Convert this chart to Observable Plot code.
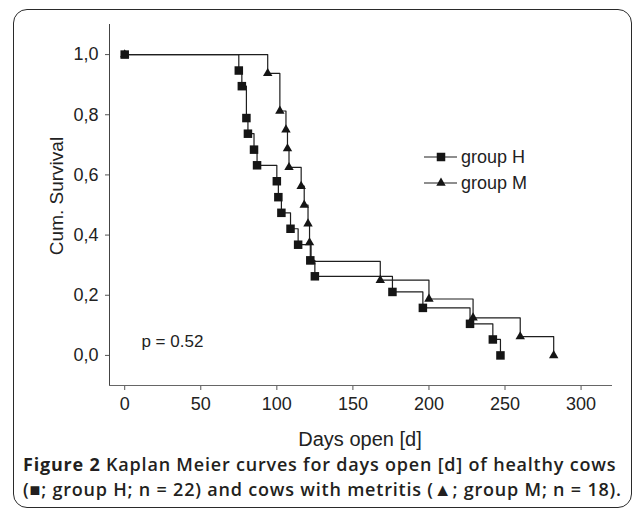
<!DOCTYPE html>
<html><head><meta charset="utf-8">
<script src="https://cdn.jsdelivr.net/npm/d3@7"></script>
<script src="https://cdn.jsdelivr.net/npm/@observablehq/plot@0.6"></script>
<style>
html,body{margin:0;padding:0;background:#fff;}
#wrap{position:relative;width:632px;height:516px;overflow:hidden;font-family:"Liberation Sans",Arial,sans-serif;}
#frame{position:absolute;left:13px;top:9px;width:619px;height:499px;border:1.5px solid #2a2a2a;border-radius:14px;box-sizing:border-box;}
#chart{position:absolute;left:0;top:0;}
#caption{position:absolute;left:23px;top:452px;font-family:"Open Sans","Noto Sans",sans-serif;font-size:18px;letter-spacing:0.8px;line-height:25px;color:#231f20;font-weight:600;white-space:nowrap;}
#caption b{font-weight:700;}
</style>
</head><body>
<div id="wrap"><div id="frame"></div><div id="chart"></div>
<div id="caption"><b>Figure 2</b> Kaplan Meier curves for days open [d] of healthy cows<br>(■; group H; n = 22) and cows with metritis (▲; group M; n = 18).</div>
</div>
<script>
// Group H (healthy), Kaplan-Meier steps
const daysH = [0, 75, 77, 80, 81, 85, 87, 100, 101, 103, 109, 114, 122, 125, 176, 196, 227, 242, 247];
const survH = [1, 0.947, 0.895, 0.789, 0.737, 0.684, 0.632, 0.579, 0.526, 0.474, 0.421, 0.368, 0.316, 0.263, 0.211, 0.158, 0.105, 0.053, 0];
// Group M (metritis)
const daysM = [0, 94, 102, 106, 107, 108, 116, 118, 120.5, 121.5, 122.5, 168, 200, 229, 260, 282];
const survM = [1, 0.9375, 0.8125, 0.75, 0.6875, 0.625, 0.5625, 0.5, 0.4375, 0.375, 0.3125, 0.25, 0.1875, 0.125, 0.0625, 0];
const xTicks = [0, 50, 100, 150, 200, 250, 300];
const yTicks = [0, 0.2, 0.4, 0.6, 0.8, 1.0];
const groupNames = ["group H", "group M"];
const pLabel = ["p = 0.52"];

const H = daysH.map((d, i) => ({day: d, surv: survH[i]}));
const M = daysM.map((d, i) => ({day: d, surv: survM[i]}));
const ink = "#1e1e1e";

const chart = Plot.plot({
  width: 632, height: 470,
  marginLeft: 109, marginRight: 21, marginTop: 24, marginBottom: 85,
  x: {domain: [-10, 320]},
  y: {domain: [-0.1, 1.1]},
  style: {fontFamily: "'Liberation Sans', Arial, sans-serif", fontSize: "18px", color: "#222", background: "transparent", overflow: "visible"},
  marks: [
    Plot.axisX({ticks: xTicks, tickSize: 5, tickPadding: 7, tickFormat: d => String(d), label: null, stroke: "#555"}),
    Plot.axisY({ticks: yTicks, tickSize: 4, tickPadding: 7, tickFormat: d => d.toFixed(1).replace(".", ","), label: null, stroke: "#555"}),
    Plot.frame({anchor: "left", stroke: "#444"}),
    Plot.frame({anchor: "bottom", stroke: "#666"}),
    Plot.line(M, {x: "day", y: "surv", curve: "step-after", stroke: ink, strokeWidth: 1.2}),
    Plot.line(H, {x: "day", y: "surv", curve: "step-after", stroke: ink, strokeWidth: 1.2}),
    Plot.dot(M, {x: "day", y: "surv", symbol: "triangle", r: 3.5, fill: "#151515", stroke: "none"}),
    Plot.dot(H, {x: "day", y: "surv", symbol: "square", r: 4.8, fill: "#151515", stroke: "none"}),
    Plot.text(pLabel, {x: 11, y: 0.045, text: d => d, textAnchor: "start", fontSize: 17, fill: "#222"})
  ]
});
document.getElementById("chart").appendChild(chart);

const svg = d3.select(chart);
// axis titles
svg.append("text").attr("x", 360).attr("y", 446).attr("text-anchor", "middle")
  .attr("font-size", 20).attr("fill", "#222").attr("font-family", "'Liberation Sans', Arial, sans-serif")
  .text("Days open [d]");
svg.append("text").attr("transform", "translate(63,196) rotate(-90)").attr("text-anchor", "middle")
  .attr("font-size", 19).attr("fill", "#222").attr("font-family", "'Liberation Sans', Arial, sans-serif")
  .text("Cum. Survival");
// legend
const leg = svg.append("g").attr("font-family", "'Liberation Sans', Arial, sans-serif").attr("font-size", 18).attr("fill", "#222").attr("text-anchor", "start");
const sym = [d3.symbolSquare, d3.symbolTriangle];
const sizes = [Math.PI * 4.8 * 4.8, Math.PI * 3.5 * 3.5];
groupNames.forEach((name, i) => {
  const y = 157 + i * 26;
  leg.append("line").attr("x1", 424).attr("x2", 457).attr("y1", y).attr("y2", y).attr("stroke", ink).attr("stroke-width", 1.2);
  leg.append("path").attr("d", d3.symbol(sym[i], sizes[i])()).attr("transform", `translate(441,${y})`).attr("fill", "#151515");
  leg.append("text").attr("x", 461).attr("y", y).attr("dy", "0.35em").attr("text-anchor", "start").text(name);
});
</script>
</body></html>
